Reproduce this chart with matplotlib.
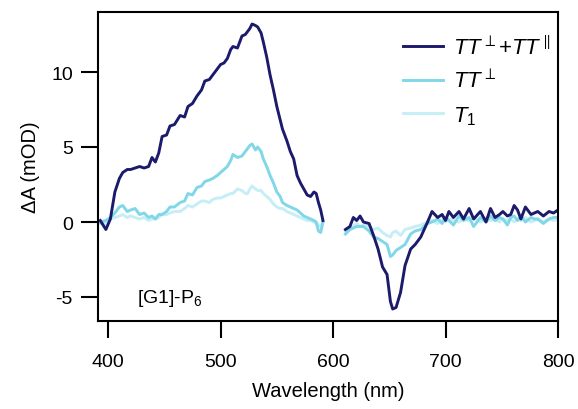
import numpy as np
import matplotlib
matplotlib.use("Agg")
import matplotlib.pyplot as plt

plt.rcParams['font.family'] = ['Liberation Sans', 'DejaVu Sans']
plt.rcParams['mathtext.fontset'] = 'custom'
plt.rcParams['mathtext.rm'] = 'Liberation Sans'
plt.rcParams['mathtext.it'] = 'Liberation Sans:italic'
plt.rcParams['axes.unicode_minus'] = False

# ---- data ----
wl_tt_left = [393, 398, 402, 406, 410, 413, 417, 420, 424, 428, 432, 436, 439, 442, 445, 448, 452, 455, 459,
              464, 468, 471, 475, 479, 483, 486, 490, 493, 497, 500, 503, 506, 509, 511, 515, 519, 522, 524,
              526, 528, 531, 533, 536, 538, 541, 544, 547, 550, 553, 555, 559, 562, 565, 568, 571, 574, 577,
              580, 583, 585, 587, 589, 591]
tt_total_left = [0.1, -0.5, 0.2, 2.0, 2.9, 3.3, 3.5, 3.5, 3.6, 3.7, 3.6, 3.7, 4.3, 4.0, 4.6, 5.7, 5.8, 6.4, 6.5,
                 7.1, 7.0, 7.7, 7.9, 8.4, 8.8, 9.4, 9.5, 9.8, 10.2, 10.5, 10.6, 10.9, 11.5, 11.7, 11.6, 12.4, 12.5, 12.7,
                 12.9, 13.2, 13.1, 13.0, 12.6, 12.0, 11.0, 9.8, 8.8, 7.7, 6.8, 6.2, 5.4, 4.7, 4.2, 3.1, 2.6, 2.2, 1.8,
                 1.7, 2.0, 1.9, 1.3, 0.8, 0.1]
tt1_left = [0.0, 0.1, 0.3, 0.6, 1.0, 1.1, 0.7, 0.8, 0.9, 0.5, 0.6, 0.3, 0.4, 0.2, 0.5, 0.5, 0.7, 1.0, 1.0,
            1.3, 1.4, 1.9, 1.8, 2.3, 2.4, 2.7, 2.8, 2.9, 3.1, 3.3, 3.5, 3.7, 4.1, 4.5, 4.3, 4.4, 4.7, 4.9,
            5.1, 5.2, 4.8, 5.0, 4.7, 4.2, 3.7, 3.1, 2.6, 2.0, 1.7, 1.3, 1.1, 1.0, 0.9, 0.8, 0.6, 0.4, 0.3,
            0.2, 0.1, 0.0, -0.6, -0.7, 0.0]
t1_left = [-0.1, -0.1, 0.2, 0.3, 0.4, 0.5, 0.3, 0.4, 0.3, 0.2, 0.3, 0.1, 0.2, 0.2, 0.3, 0.5, 0.5, 0.6, 0.7,
           0.7, 0.9, 1.1, 1.0, 1.2, 1.4, 1.4, 1.3, 1.5, 1.6, 1.6, 1.7, 1.8, 1.9, 1.9, 2.2, 2.1, 1.9, 1.9,
           2.2, 2.4, 2.2, 2.1, 2.1, 1.9, 1.7, 1.5, 1.2, 1.0, 0.9, 0.9, 0.7, 0.6, 0.5, 0.4, 0.3, 0.2, 0.1,
           0.1, 0.0, -0.1, -0.2, -0.3, 0.0]

wl_right = [611, 615, 618, 621, 624, 627, 632, 636, 640, 644, 648, 651, 653, 656, 660, 664, 669, 673, 678,
            684, 688, 693, 697, 700, 703, 707, 712, 716, 721, 725, 731, 736, 740, 744, 748, 751, 755, 758,
            761, 764, 767, 771, 776, 779, 782, 787, 792, 796, 800]
tt_total_right = [-0.5, -0.3, 0.3, 0.1, 0.4, 0.0, -0.1, -0.9, -1.8, -3.0, -3.5, -5.3, -5.8, -5.7, -4.7, -2.9,
                  -1.8, -1.5, -1.0, 0.0, 0.7, 0.3, 0.5, 0.1, 0.7, 0.3, 0.7, 0.2, 0.9, 0.2, 0.7, 0.0, 0.9, 0.3,
                  0.5, 0.7, 0.4, 0.5, 1.1, 0.8, 0.2, 1.0, 0.5, 0.6, 0.7, 0.4, 0.7, 0.6, 0.8]
tt1_right = [-0.8, -0.5, -0.4, -0.3, -0.3, -0.3, -0.6, -1.0, -1.1, -1.3, -1.5, -2.3, -2.2, -1.9, -1.7, -1.5,
             -0.8, -0.6, -0.5, -0.1, 0.0, 0.2, -0.1, 0.3, 0.1, -0.2, 0.4, 0.1, 0.3, -0.3, 0.3, 0.0, 0.4, 0.1,
             0.3, 0.2, -0.2, 0.3, 0.4, 0.1, 0.4, 0.0, 0.3, 0.2, 0.2, -0.1, 0.2, 0.3, 0.3]
t1_right = [-0.6, -0.4, -0.3, -0.1, -0.3, -0.2, -0.3, -0.5, -0.4, -0.7, -0.9, -1.0, -0.7, -0.6, -0.9, -0.5,
            -0.4, -0.3, -0.2, 0.0, 0.1, -0.1, 0.2, 0.0, 0.2, 0.1, 0.0, 0.2, 0.1, 0.3, 0.0, 0.2, 0.1, 0.2,
            0.0, 0.2, 0.1, 0.2, 0.0, 0.2, 0.1, 0.3, 0.0, 0.1, 0.2, 0.0, 0.2, 0.1, 0.2]

labels = [r'$TT^{\perp}$+$TT^{\parallel}$', r'$TT^{\perp}$', r'$T_1$']
colors = ['#1b1a6b', '#7fd7e7', '#c6eef6']
x_ticks = [400, 500, 600, 700, 800]
y_ticks = [-5, 0, 5, 10]

# ---- plot ----
fig = plt.figure(figsize=(5.78, 4.10), dpi=100)
ax = fig.add_axes([98/578, 1 - 322/410, 460/578, 309/410])

gap = [np.nan]
wl = np.array(wl_tt_left + [600] + wl_right, dtype=float)
series = [tt_total_left + gap + tt_total_right,
          tt1_left + gap + tt1_right,
          t1_left + gap + t1_right]

handles = []
for vals, col, lab in zip(series[::-1], colors[::-1], labels[::-1]):
    h, = ax.plot(wl, np.array(vals, dtype=float), color=col, lw=2.1, label=lab, solid_joinstyle='round')
    handles.append(h)
handles = handles[::-1]

ax.set_xlim(391, 800)
ax.set_ylim(-6.6, 14)
ax.set_xticks(x_ticks)
ax.set_yticks(y_ticks)
ax.tick_params(direction='out', length=12, width=1.5, labelsize=14)
ax.tick_params(axis='x', pad=11)
ax.tick_params(axis='y', pad=6)
for s in ax.spines.values():
    s.set_linewidth(1.5)

ax.set_xlabel('Wavelength (nm)', fontsize=14.5, labelpad=8)
ax.set_ylabel('ΔA (mOD)', fontsize=14.5, labelpad=8)

leg = ax.legend(handles=handles, labels=labels, loc='upper left', bbox_to_anchor=(0.62, 0.99),
                frameon=False, fontsize=16, handlelength=1.8, handletextpad=0.45, labelspacing=0.5)

ax.text(0.085, 0.06, r'[G1]-P$_6$', transform=ax.transAxes, fontsize=14)

fig.savefig('out.png', dpi=100)
